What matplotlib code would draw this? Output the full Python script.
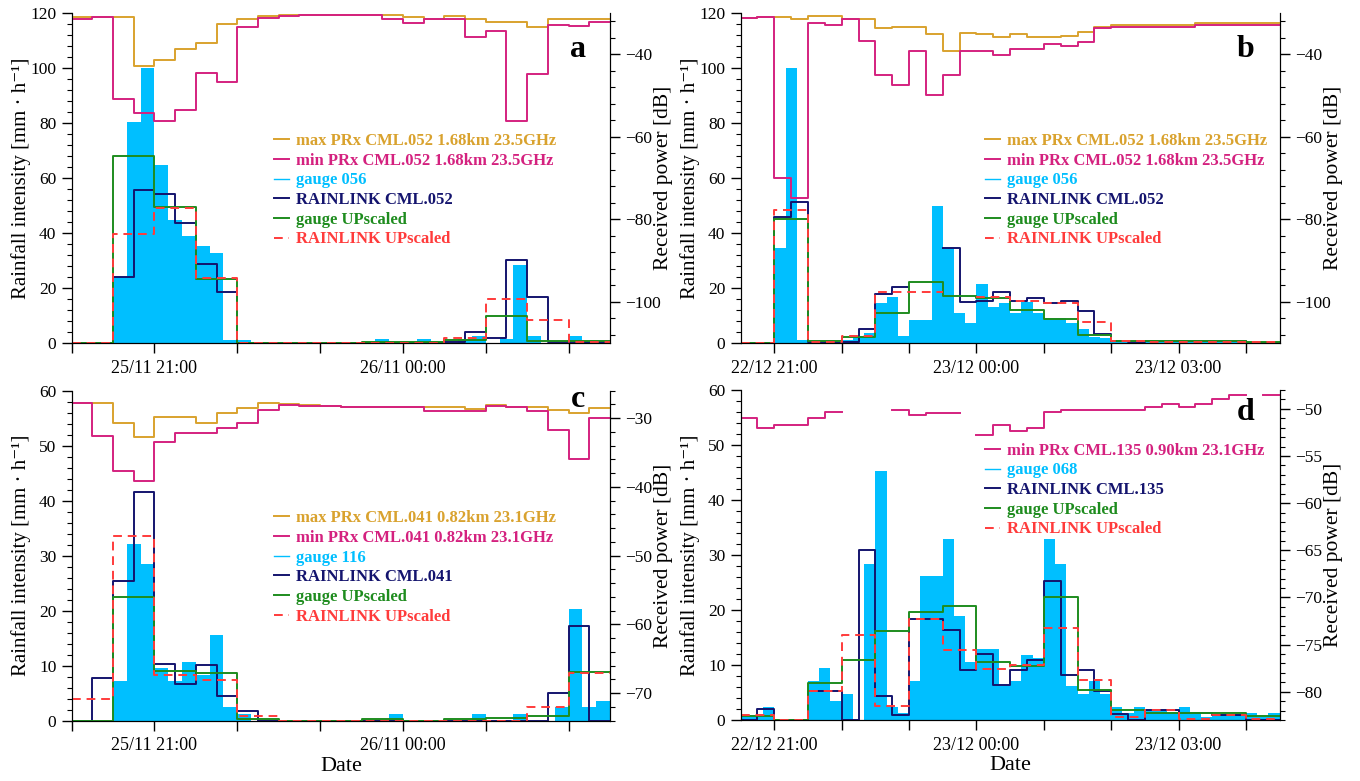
import numpy as np
import matplotlib
matplotlib.use('Agg')
import matplotlib.pyplot as plt
from matplotlib.lines import Line2D
from matplotlib.ticker import MultipleLocator, FixedLocator

plt.rcParams['font.family'] = ['Liberation Serif', 'DejaVu Serif']
plt.rcParams['mathtext.fontset'] = 'stix'

# colours
C_MAX = '#D9A22E'
C_MIN = '#D4217F'
C_GAUGE = '#00BFFF'
C_LINK = '#14146E'
C_GUP = '#1E8C1E'
C_LUP = '#FF3B3B'

nan = np.nan

# ---- panel a : 25/11 20:00 - 26/11 02:30 (hours relative to midnight) ----
a_start, a_end = -4.0, 2.5
a_prx_max = [-31.0, -31.0, -31.0, -42.8, -41.4, -38.6, -37.2, -32.7, -31.5, -30.6, -30.5, -30.5, -30.5,
             -30.5, -30.5, -30.5, -31.0, -31.5, -30.6, -31.5, -32.1, -32.1, -33.5, -31.5, -31.5, -31.5]
a_prx_min = [-31.5, -31.0, -50.9, -54.3, -56.1, -53.5, -44.6, -46.6, -33.5, -31.3, -30.6, -30.5, -30.5,
             -30.5, -30.5, -31.5, -32.3, -31.5, -31.5, -35.7, -34.4, -56.1, -44.8, -33.0, -33.2, -32.1]
a_gauge = [0, 0, 0, 24.0, 80.4, 100.0, 64.8, 44.8, 38.9, 35.3, 32.8, 1.2, 1.0, 0, 0, 0, 0, 0, 0, 0,
           0, 0, 1.3, 0, 0, 1.3, 0, 0, 1.3, 2.5, 0, 1.3, 28.2, 2.5, 0, 0, 2.5, 0.5, 0.5]
a_link = [0, 0, 24.0, 55.8, 54.3, 43.6, 28.8, 18.5, 0, 0, 0, 0, 0, 0, 0, 0, 0, 0, 0.5, 4.1, 1.7,
          30.3, 16.8, 0.2, 0.2, 0.2]
a_gauge_up = [0, 68.0, 49.5, 23.3, 0, 0, 0, 0.3, 0.3, 1.2, 9.8, 0.9, 0.9]
a_link_up = [0, 39.8, 49.1, 23.8, 0, 0, 0, 0, 0, 1.9, 15.9, 8.4, 0.3]

# ---- panel b : 22/12 20:30 - 23/12 04:30 ----
b_start, b_end = -3.5, 4.5
b_prx_max = [-31.3, -31.0, -31.0, -31.5, -30.6, -30.6, -31.5, -31.5, -33.7, -33.3, -33.5, -35.1, -39.2,
             -34.9, -35.1, -35.7, -35.1, -35.7, -35.7, -35.5, -34.7, -33.5, -32.9, -32.9, -32.9, -32.9,
             -32.9, -32.3, -32.3, -32.3, -32.3, -32.3]
b_prx_min = [-31.3, -31.0, -70.1, -74.8, -32.3, -32.9, -31.5, -36.7, -44.9, -47.5, -39.2, -49.9, -44.9,
             -39.2, -39.3, -40.1, -38.7, -38.7, -37.4, -37.9, -37.1, -33.7, -33.5, -33.5, -33.5, -33.5,
             -33.5, -32.9, -32.9, -32.9, -32.9, -32.9]
b_gauge = [0, 0, 0, 34.5, 100.1, 1.2, 0.5, 1.0, 1.0, 1.1, 2.1, 3.5, 14.7, 16.8, 2.5, 8.4, 8.4, 49.8,
           34.4, 11.0, 7.2, 21.5, 13.2, 14.4, 10.8, 15.0, 10.8, 9.0, 9.0, 7.2, 5.0, 2.3, 1.7, 1.1, 0.8,
           0.5, 0.5, 1.2, 0.5, 1.2, 0.5, 0.5, 0.5, 0.8, 1.2, 0.3, 0.3, 0.3]
b_link = [0, 0, 45.8, 51.2, 0.4, 0, 0.3, 5.1, 17.7, 20.2, nan, nan, 34.4, 14.8, 15.3, 18.4, 15.3,
          16.5, 14.4, 15.3, 11.8, 3.3, 0.8, 0.5, 0.7, 0.7, 0.7, 0.7, 0.7, 0.7, 0, 0]
b_gauge_up = [0, 45.2, 0.7, 2.1, 11.0, 22.1, 17.2, 16.2, 12.0, 8.6, 2.8, 0.9, 0.7, 0.7, 0.7, 0.4]
b_link_up = [0, 48.5, 0.3, 2.5, 18.7, 18.7, nan, 16.8, 15.4, 14.7, 7.8, 0.9, 0.5, 0.5, 0.5, 0.3]

# ---- panel c : 25/11 20:00 - 26/11 02:30 ----
c_prx_max = [-27.8, -27.8, -30.7, -32.7, -29.8, -29.8, -30.7, -29.3, -28.5, -27.8, -28.0, -28.1, -28.2,
             -28.3, -28.3, -28.3, -28.3, -28.3, -28.3, -28.6, -28.1, -28.3, -28.3, -28.8, -29.3, -28.5]
c_prx_min = [-27.8, -32.6, -37.7, -39.1, -33.5, -32.2, -32.2, -31.4, -30.7, -28.8, -28.1, -28.2, -28.2,
             -28.3, -28.3, -28.3, -28.3, -28.9, -28.9, -28.9, -28.2, -28.3, -29.0, -31.7, -36.0, -30.0]
c_gauge = [0, 0, 0, 7.2, 32.1, 28.5, 9.5, 7.2, 10.7, 8.4, 15.5, 2.5, 1.3, 0, 0, 0, 0, 0, 0, 0, 0,
           0, 0, 1.3, 0, 0, 0, 0, 0, 1.3, 0, 0, 1.3, 0, 0, 2.5, 20.3, 2.5, 3.6]
c_link = [0, 7.8, 25.4, 41.6, 10.3, 6.6, 10.1, 4.5, 1.8, 0, 0, 0, 0, 0, 0, 0, 0, 0, 0, 0, 0, 0,
          0, 5.1, 17.2, 0]
c_gauge_up = [0, 22.5, 9.1, 8.6, 0.4, 0, 0, 0.4, 0, 0.4, 0.5, 0.9, 8.8]
c_link_up = [3.9, 33.6, 8.4, 7.4, 0.9, 0, 0, 0, 0, 0, 0, 2.5, 8.6]

# ---- panel d : 22/12 20:30 - 23/12 04:30 ----
d_prx_min = [-51.0, -52.0, -51.7, -51.7, -51.0, -50.3, nan, nan, nan, -50.1, -50.7, -50.4, -50.4,
             nan, -52.8, -51.7, -52.3, -52.0, -50.3, -50.1, -50.1, -50.1, -50.1, -50.1, -49.8, -49.5,
             -49.8, -49.5, -48.9, -48.5, nan, -48.5]
d_gauge = [0.6, 0.6, 2.3, 0, 0, 0, 7.1, 9.5, 3.5, 4.7, 0, 28.4, 45.2, 2.3, 1.2, 7.1, 26.1, 26.1, 33.0,
           18.9, 10.6, 13.0, 13.0, 6.1, 7.1, 11.8, 11.2, 33.0, 28.4, 6.1, 4.8, 7.1, 4.8, 2.4, 1.2, 2.3,
           1.8, 1.8, 1.2, 2.3, 1.2, 0.5, 0.9, 0.9, 0.9, 1.2, 0.6, 1.2]
d_link = [0, 2.0, 0, 0, 5.3, 5.3, 0, 30.9, 4.4, 0.9, 18.4, 18.4, 16.4, 9.1, 12.0, 6.4, 9.1, 10.9,
          25.2, 8.2, 9.1, 5.3, 1.1, 0, 1.8, 1.8, 1.2, 1.2, 0.9, 0.9, 0, 0]
d_gauge_up = [0.7, 0, 6.7, 11.0, 16.2, 19.7, 20.8, 10.6, 9.9, 22.4, 5.5, 1.8, 1.2, 1.2, 1.2, 0.7]
d_link_up = [1.0, 0, 5.3, 15.5, 2.6, 18.4, 12.7, 9.3, 10.0, 16.7, 7.3, 0.5, 1.9, 0.1, 1.0, 0.1]

LW = 1.4
DASH = (0, (4.5, 3))


def steps(ax, start, dt, vals, **kw):
    v = np.array(vals, dtype=float)
    x = start + dt * np.arange(len(v) + 1)
    y = np.append(v, v[-1])
    ax.plot(x, y, drawstyle='steps-post', **kw)


def panel(rect, start, end, day1, day2, gauge, link, gup, lup, pmax, pmin,
          ylim, ymaj, ymin, rlim, rmaj, rmin, labels, leg_xy, letter, letter_xy, date):
    ax = fig.add_axes(rect)
    ax.bar(start + np.arange(len(gauge)) / 6, gauge, width=1 / 6, align='edge',
           color=C_GAUGE, linewidth=0, zorder=1)
    steps(ax, start, 0.25, link, color=C_LINK, lw=LW, zorder=3)
    steps(ax, start, 0.5, gup, color=C_GUP, lw=LW, zorder=4)
    steps(ax, start, 0.5, lup, color=C_LUP, lw=LW, ls=DASH, zorder=5)
    ax.set_xlim(start, end)
    ax.set_ylim(*ylim)
    ax.yaxis.set_major_locator(MultipleLocator(ymaj))
    ax.yaxis.set_minor_locator(MultipleLocator(ymin))
    hours = np.arange(np.ceil(start), np.floor(end) + 1)
    ax.xaxis.set_major_locator(FixedLocator(hours))
    lab = []
    for h in hours:
        if h % 3 == 0:
            d = day2 if h >= 0 else day1
            lab.append('%s %02d:00' % (d, h % 24))
        else:
            lab.append('')
    ax.set_xticklabels(lab)
    ax.set_ylabel('Rainfall intensity [mm · h⁻¹]', fontsize=15)
    ax.yaxis.set_label_coords(-0.075, 0.5)
    if date:
        ax.set_xlabel('Date', fontsize=16, labelpad=2)

    ax2 = ax.twinx()
    handles = []
    if pmax is not None:
        steps(ax2, start, 0.25, pmax, color=C_MAX, lw=LW)
        handles.append(Line2D([], [], color=C_MAX, lw=LW, label=labels[0]))
    steps(ax2, start, 0.25, pmin, color=C_MIN, lw=LW)
    handles.append(Line2D([], [], color=C_MIN, lw=LW, label=labels[1]))
    ax2.set_ylim(*rlim)
    ax2.yaxis.set_major_locator(MultipleLocator(rmaj))
    ax2.yaxis.set_minor_locator(MultipleLocator(rmin))
    ax2.set_ylabel('Received power [dB]', fontsize=15.5)
    ax2.yaxis.set_label_coords(1.082, 0.5)
    handles += [Line2D([], [], color=C_GAUGE, lw=1.0, label=labels[2]),
                Line2D([], [], color=C_LINK, lw=LW, label=labels[3]),
                Line2D([], [], color=C_GUP, lw=LW, label='gauge UPscaled'),
                Line2D([], [], color=C_LUP, lw=LW, ls=DASH, label='RAINLINK UPscaled')]
    ax2.legend(handles=handles, loc='upper left', bbox_to_anchor=leg_xy, frameon=False,
               prop={'weight': 'bold', 'size': 12}, labelcolor='linecolor',
               handlelength=0.9, handletextpad=0.4, labelspacing=0.22,
               borderpad=0, borderaxespad=0)
    ax2.text(letter_xy[0], letter_xy[1], letter, transform=ax2.transAxes, ha='center',
             va='baseline', fontsize=23, fontweight='bold')

    for a in (ax, ax2):
        a.spines['top'].set_visible(False)
        a.tick_params(which='major', direction='out', length=7, width=1, labelsize=12.5, pad=4)
        a.tick_params(which='minor', direction='out', length=3.5, width=0.8)
    ax.tick_params(axis='x', pad=5, labelsize=13)
    return ax, ax2


fig = plt.figure(figsize=(13.6, 7.81), dpi=100)

panel([0.0527, 0.5608, 0.3958, 0.4225], a_start, a_end, '25/11', '26/11',
      a_gauge, a_link, a_gauge_up, a_link_up, a_prx_max, a_prx_min,
      (0, 120), 20, 4, (-110, -30), 20, 4,
      ['max PRx CML.052 1.68km 23.5GHz', 'min PRx CML.052 1.68km 23.5GHz', 'gauge 056', 'RAINLINK CML.052'],
      (0.376, 0.636), 'a', (0.94, 0.867), False)

panel([0.5446, 0.5608, 0.3963, 0.4225], b_start, b_end, '22/12', '23/12',
      b_gauge, b_link, b_gauge_up, b_link_up, b_prx_max, b_prx_min,
      (0, 120), 20, 4, (-110, -30), 20, 4,
      ['max PRx CML.052 1.68km 23.5GHz', 'min PRx CML.052 1.68km 23.5GHz', 'gauge 056', 'RAINLINK CML.052'],
      (0.4536, 0.636), 'b', (0.937, 0.867), False)

panel([0.0527, 0.0772, 0.3958, 0.4225], a_start, a_end, '25/11', '26/11',
      c_gauge, c_link, c_gauge_up, c_link_up, c_prx_max, c_prx_min,
      (0, 60), 10, 2, (-74, -26), 10, 2,
      ['max PRx CML.041 0.82km 23.1GHz', 'min PRx CML.041 0.82km 23.1GHz', 'gauge 116', 'RAINLINK CML.041'],
      (0.376, 0.638), 'c', (0.94, 0.951), True)

panel([0.5446, 0.0781, 0.3963, 0.4225], b_start, b_end, '22/12', '23/12',
      d_gauge, d_link, d_gauge_up, d_link_up, None, d_prx_min,
      (0, 60), 10, 2, (-83, -48), 5, 1,
      [None, 'min PRx CML.135 0.90km 23.1GHz', 'gauge 068', 'RAINLINK CML.135'],
      (0.4536, 0.840), 'd', (0.937, 0.909), True)

fig.savefig('out.png', dpi=100)
